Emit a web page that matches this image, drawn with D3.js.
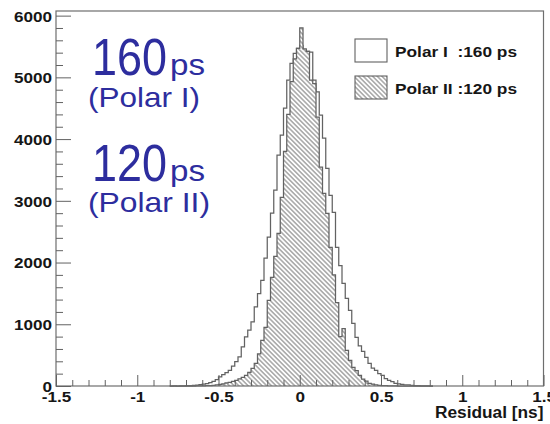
<!DOCTYPE html>
<html>
<head>
<meta charset="utf-8">
<script src="https://cdn.jsdelivr.net/npm/d3@7"></script>
<style>
  body { margin: 0; background: #fff; }
  svg { display: block; }
</style>
</head>
<body>
<script>
// Residual histograms: bins of 0.02 ns starting at -0.80 ns
const binStart = -0.80;
const binWidth = 0.02;

// Polar I (160 ps) counts per bin, -0.80 .. 0.80
const polarI = [
  0, 2, 0, 3, 4, 5,
  8, 10, 15, 22, 30, 40, 55, 75, 105, 146,
  185, 215, 254, 320, 395, 470, 632, 794, 905, 1037,
  1280, 1497, 1713, 2070, 2410, 2800, 3172, 3740, 4063, 4500,
  4955, 5225, 5387, 5468, 5520,
  5450, 5420, 5410, 4955, 4765, 4387, 4015, 3525, 3087, 2812,
  2245, 1950, 1663, 1421, 1227, 1016, 789, 650, 560, 465,
  368, 290, 254, 200, 173, 120, 92, 70, 44, 35,
  25, 18, 20, 12, 8, 5, 3, 2, 2, 0
];

// Polar II (120 ps) counts per bin, -0.80 .. 0.80
const polarII = [
  0, 0, 0, 0, 0, 0,
  0, 0, 2, 3, 4, 5, 8, 12, 18, 25,
  35, 49, 60, 75, 92, 115, 140, 173, 222, 287,
  368, 520, 740, 950, 1388, 1760, 2100, 2472, 3056, 3800,
  4400, 4930, 5300, 5468, 5800,
  5460, 5420, 4955, 4900, 4355, 3545, 3120, 2795, 2245, 1800,
  1350, 800, 930, 578, 416, 300, 250, 173, 110, 80,
  44, 30, 20, 12, 8, 5, 4, 3, 2, 0,
  0, 0, 0, 0, 0, 0, 0, 0, 0, 0
];

const xMajorTicks = [-1.5, -1, -0.5, 0, 0.5, 1, 1.5];
const xTickLabels = ["-1.5", "-1", "-0.5", "0", "0.5", "1", "1.5"];
const yMajorTicks = [0, 1000, 2000, 3000, 4000, 5000, 6000];
const yTickLabels = ["0", "1000", "2000", "3000", "4000", "5000", "6000"];
const xAxisTitle = "Residual [ns]";
const legendLabels = ["Polar I  :160 ps", "Polar II :120 ps"];
const bigLabels = [
  { value: "160", unit: "ps", name: "(Polar I)" },
  { value: "120", unit: "ps", name: "(Polar II)" }
];

const W = 550, H = 424;
const frame = { left: 56, right: 543.5, top: 11, bottom: 386 };
const lineColor = "#626262";
const textColor = "#161616";
const blue = "#2d2d9e";
const fontFamily = "'Liberation Sans', Arial, Helvetica, sans-serif";

const svg = d3.select("body").append("svg")
  .attr("width", W).attr("height", H)
  .attr("font-family", fontFamily);

const x = d3.scaleLinear().domain([-1.5, 1.5]).range([frame.left, frame.right]);
const y = d3.scaleLinear().domain([0, 6075]).range([frame.bottom, frame.top]);

// Widen glyphs horizontally (the labels use a broad bold face)
function stretch(sel, f) {
  sel.each(function () {
    const w = this.getComputedTextLength();
    d3.select(this).attr("textLength", w * f).attr("lengthAdjust", "spacingAndGlyphs");
  });
}

// Hatch pattern for Polar II
const defs = svg.append("defs");
const pat = defs.append("pattern")
  .attr("id", "hatch")
  .attr("patternUnits", "userSpaceOnUse")
  .attr("width", 10).attr("height", 3.3)
  .attr("patternTransform", "rotate(45)");
pat.append("rect").attr("width", 10).attr("height", 3.3).attr("fill", "#fff");
pat.append("line")
  .attr("x1", 0).attr("x2", 10).attr("y1", 1.65).attr("y2", 1.65)
  .attr("stroke", "#707070").attr("stroke-width", 0.95);

// Build a stepped outline from bin counts
function stepPath(counts) {
  const p = d3.path();
  const x0 = binStart;
  p.moveTo(x(x0), y(0));
  counts.forEach((c, i) => {
    const lo = x0 + i * binWidth, hi = lo + binWidth;
    p.lineTo(x(lo), y(c));
    p.lineTo(x(hi), y(c));
  });
  p.lineTo(x(x0 + counts.length * binWidth), y(0));
  return p.toString();
}

const plot = svg.append("g");
plot.append("path")
  .attr("d", stepPath(polarI))
  .attr("fill", "#fff")
  .attr("stroke", lineColor).attr("stroke-width", 1.25);
plot.append("path")
  .attr("d", stepPath(polarII))
  .attr("fill", "url(#hatch)")
  .attr("stroke", lineColor).attr("stroke-width", 1.25);

// Frame
svg.append("rect")
  .attr("x", frame.left).attr("y", frame.top)
  .attr("width", frame.right - frame.left).attr("height", frame.bottom - frame.top)
  .attr("fill", "none").attr("stroke", "#6e6e6e").attr("stroke-width", 1.2);

// X axis: inward ticks
const xMinor = d3.range(-15, 16).map(d => d / 10).filter(v => !xMajorTicks.some(m => Math.abs(m - v) < 1e-9));
svg.append("g").attr("transform", `translate(0,${frame.bottom})`)
  .call(d3.axisBottom(x).tickValues(xMinor).tickSize(-6).tickFormat(""))
  .call(g => g.select(".domain").remove())
  .call(g => g.selectAll("line").attr("stroke", lineColor));
svg.append("g").attr("transform", `translate(0,${frame.bottom})`)
  .call(d3.axisBottom(x).tickValues(xMajorTicks).tickSize(-11)
    .tickFormat((d, i) => xTickLabels[i]))
  .call(g => g.select(".domain").remove())
  .call(g => g.selectAll("line").attr("stroke", lineColor))
  .call(g => g.selectAll("text")
    .attr("y", 16).attr("dy", 0)
    .attr("fill", textColor).attr("font-size", 15).attr("font-weight", "bold")
    .attr("font-family", fontFamily)
    .call(stretch, 1.14));

// Y axis: inward ticks
const yMinor = d3.range(0, 6001, 200).filter(v => v % 1000 !== 0);
svg.append("g").attr("transform", `translate(${frame.left},0)`)
  .call(d3.axisLeft(y).tickValues(yMinor).tickSize(-7).tickFormat(""))
  .call(g => g.select(".domain").remove())
  .call(g => g.selectAll("line").attr("stroke", lineColor));
svg.append("g").attr("transform", `translate(${frame.left},0)`)
  .call(d3.axisLeft(y).tickValues(yMajorTicks).tickSize(-15)
    .tickFormat((d, i) => yTickLabels[i]))
  .call(g => g.select(".domain").remove())
  .call(g => g.selectAll("line").attr("stroke", lineColor))
  .call(g => g.selectAll("text")
    .attr("x", -4).attr("dy", "0.36em")
    .attr("fill", textColor).attr("font-size", 15).attr("font-weight", "bold")
    .attr("font-family", fontFamily)
    .call(stretch, 1.14));

// Axis title
svg.append("text")
  .attr("x", frame.right).attr("y", 418)
  .attr("text-anchor", "end")
  .attr("font-size", 16).attr("font-weight", "bold").attr("fill", textColor)
  .text(xAxisTitle)
  .call(stretch, 1.08);

// Legend
const leg = svg.append("g");
const legRows = [
  { fill: "#fff", label: legendLabels[0], y: 39 },
  { fill: "url(#hatch)", label: legendLabels[1], y: 76 }
];
legRows.forEach(r => {
  leg.append("rect")
    .attr("x", 355).attr("y", r.y).attr("width", 32).attr("height", 23)
    .attr("fill", r.fill).attr("stroke", lineColor).attr("stroke-width", 1.1);
  leg.append("text")
    .attr("x", 395).attr("y", r.y + 18)
    .attr("font-size", 15).attr("font-weight", "bold").attr("fill", textColor)
    .attr("xml:space", "preserve")
    .style("white-space", "pre")
    .text(r.label)
    .attr("textLength", 122).attr("lengthAdjust", "spacingAndGlyphs");
});

// Resolution annotations
const ann = svg.append("g").attr("fill", blue);
const annY = [{ big: 75, small: 107 }, { big: 181, small: 212 }];
const nameWidths = [112, 122];
bigLabels.forEach((b, i) => {
  ann.append("text").attr("x", 92).attr("y", annY[i].big)
    .attr("font-size", 52)
    .attr("textLength", 75).attr("lengthAdjust", "spacingAndGlyphs")
    .text(b.value);
  ann.append("text").attr("x", 170).attr("y", annY[i].big)
    .attr("font-size", 30)
    .attr("textLength", 35).attr("lengthAdjust", "spacingAndGlyphs")
    .text(b.unit);
  ann.append("text").attr("x", 88).attr("y", annY[i].small)
    .attr("font-size", 28)
    .attr("textLength", nameWidths[i]).attr("lengthAdjust", "spacingAndGlyphs")
    .text(b.name);
});
</script>
</body>
</html>
